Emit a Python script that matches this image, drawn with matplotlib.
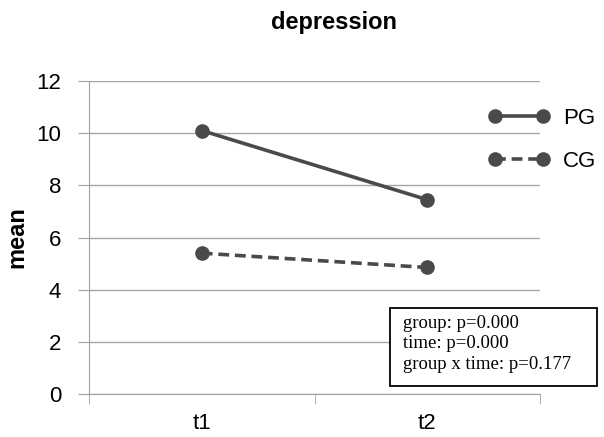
import numpy as np
import matplotlib
matplotlib.use("Agg")
import matplotlib.pyplot as plt
from matplotlib.patches import Rectangle

plt.rcParams['font.family'] = ['Liberation Sans', 'DejaVu Sans']

times = ["t1", "t2"]
pg = [10.1, 7.45]
cg = [5.4, 4.85]
yticks = [0, 2, 4, 6, 8, 10, 12]

fig = plt.figure(figsize=(6.04, 4.37), dpi=100)
ax = fig.add_axes([89/604, 1 - 394/437, 451/604, 313/437])

col = "#4a4a4a"
x = np.arange(len(times))
ax.plot(x, pg, "-", color=col, lw=2.6, marker="o", ms=9.5, label="PG")
ax.plot(x, cg, "--", color=col, lw=2.6, marker="o", ms=9.5, label="CG", dashes=(3, 1.6))

ax.set_xlim(-0.5, 1.5)
ax.set_ylim(0, 12)
ax.set_yticks(yticks)
ax.set_xticks(x)
ax.set_xticklabels(times)
ax.set_xticks([-0.5, 0.5, 1.5], minor=True)
ax.tick_params(axis="x", which="major", length=0, labelsize=16, pad=14)
ax.tick_params(axis="x", which="minor", length=7, color="#a0a0a0")
ax.tick_params(axis="y", length=8, color="#a0a0a0", labelsize=16, pad=12)
ax.yaxis.grid(True, color="#a6a6a6", lw=1)
ax.set_axisbelow(True)
for s in ["top", "right"]:
    ax.spines[s].set_visible(False)
ax.spines["left"].set_color("#a0a0a0")
ax.spines["bottom"].set_color("#a0a0a0")

ax.set_ylabel("mean", fontsize=17, fontweight="bold", labelpad=6)
fig.text(334/604, 1 - 22/437, "depression", fontsize=17, fontweight="bold",
         ha="center", va="center")

leg = fig.legend(loc="upper left", bbox_to_anchor=(488/604, 1 - 108/437), frameon=False,
                 fontsize=16, numpoints=2, handlelength=2.76, labelspacing=0.98,
                 handletextpad=0.6, borderpad=0, borderaxespad=0)

fig.patches.append(Rectangle((390/604, 1 - 386/437), 207/604, 78/437,
                             transform=fig.transFigure, fc="white", ec="black", lw=1.3,
                             zorder=5))
fig.text(403/604, 1 - 344/437, "group: p=0.000\ntime: p=0.000\ngroup x time: p=0.177",
         family="Liberation Serif", fontsize=13.5, ha="left", va="center", linespacing=1.25,
         zorder=6)

fig.savefig("out.png", dpi=100)
